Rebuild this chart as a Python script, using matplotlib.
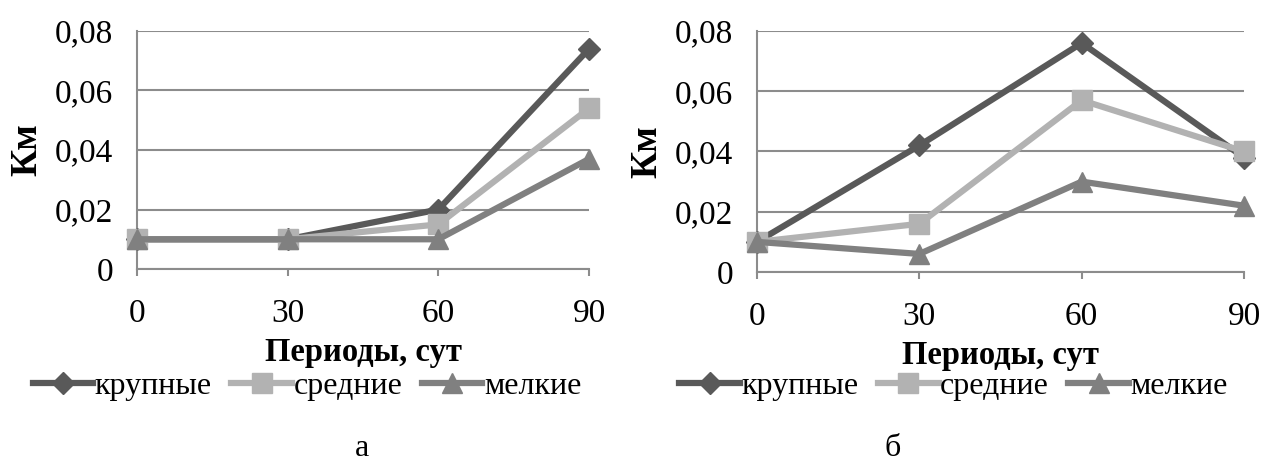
import matplotlib.pyplot as plt
from matplotlib.ticker import FuncFormatter

plt.rcParams['font.family'] = ['Liberation Serif', 'DejaVu Serif']

periods = [0, 30, 60, 90]
series_names = ["крупные", "средние", "мелкие"]

# panel а
a_large = [0.010, 0.010, 0.020, 0.074]
a_medium = [0.010, 0.010, 0.015, 0.054]
a_small = [0.010, 0.010, 0.010, 0.037]

# panel б
b_large = [0.010, 0.042, 0.076, 0.038]
b_medium = [0.010, 0.016, 0.057, 0.040]
b_small = [0.010, 0.006, 0.030, 0.022]

colors = ["#595959", "#b2b2b2", "#808080"]
markers = ["D", "s", "^"]
msizes = [11, 14, 15]
yticks = [0, 0.02, 0.04, 0.06, 0.08]
grid_color = "#8c8c8c"


def comma_fmt(v, _):
    return "0" if abs(v) < 1e-9 else f"{v:.2f}".replace(".", ",")


def panel(ax, data, legend_x):
    for vals, name, c, m, ms in zip(data, series_names, colors, markers, msizes):
        ax.plot(periods, vals, color=c, lw=4.5, marker=m, ms=ms,
                label=name, clip_on=False, zorder=3)
    ax.set_xlim(0, 90)
    ax.set_ylim(0, 0.08)
    ax.set_xticks(periods)
    ax.set_yticks(yticks)
    ax.yaxis.set_major_formatter(FuncFormatter(comma_fmt))
    ax.grid(axis="y", color=grid_color, lw=1.5)
    ax.set_axisbelow(True)
    for s in ["top", "right"]:
        ax.spines[s].set_visible(False)
    for s in ["left", "bottom"]:
        ax.spines[s].set_color(grid_color)
        ax.spines[s].set_linewidth(1.5)
    ax.tick_params(axis="y", length=0, pad=17, labelsize=24)
    ax.tick_params(axis="x", length=5, width=1.5, color=grid_color,
                   direction="out", pad=16, labelsize=24)
    ax.set_xlabel("Периоды, сут", fontsize=23.5, fontweight="bold", labelpad=6)
    ax.set_ylabel("Км", fontsize=27, fontweight="bold", labelpad=8)
    ax.legend(loc="center", bbox_to_anchor=(legend_x, 0.17),
              bbox_transform=ax.figure.transFigure, ncol=3, frameon=False,
              fontsize=23, handlelength=1.9, handletextpad=0.05,
              columnspacing=0.6, borderaxespad=0)


fig = plt.figure(figsize=(12.63, 4.66), dpi=100)
ax1 = fig.add_axes([0.1085, 0.4227, 0.3579, 0.5108])
ax2 = fig.add_axes([0.5994, 0.4163, 0.3856, 0.5172])

panel(ax1, [a_large, a_medium, a_small], 0.243)
panel(ax2, [b_large, b_medium, b_small], 0.755)

fig.text(0.287, 0.022, "а", fontsize=23, ha="center")
fig.text(0.707, 0.022, "б", fontsize=23, ha="center")

fig.savefig("out.png", dpi=100)
